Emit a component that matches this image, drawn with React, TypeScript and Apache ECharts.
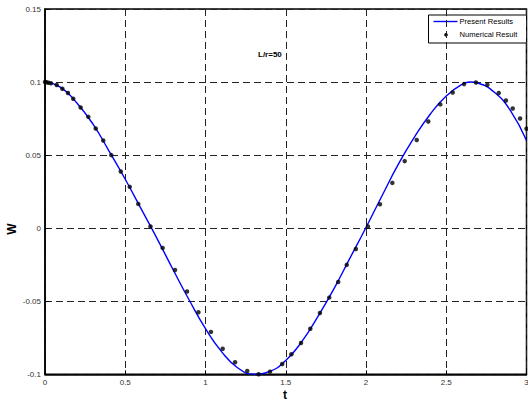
import React, { useEffect, useRef } from "react";
import * as echarts from "echarts";

// Present Results (blue line): [t, W]
const lineT = [0, 0.1, 0.2, 0.3, 0.4, 0.5, 0.6, 0.7, 0.8, 0.9, 1.0, 1.1, 1.2, 1.3, 1.4, 1.5, 1.6, 1.7, 1.8, 1.9, 2.0, 2.1, 2.2, 2.3, 2.4, 2.5, 2.6, 2.65, 2.7, 2.8, 2.9, 3.0];
const lineW = [0.1, 0.0962, 0.0855, 0.071, 0.0526, 0.0335, 0.013, -0.0075, -0.0288, -0.0495, -0.0688, -0.0845, -0.0955, -0.0999, -0.098, -0.0905, -0.0776, -0.0605, -0.0415, -0.0205, 0.0005, 0.0222, 0.0435, 0.062, 0.078, 0.0905, 0.0985, 0.1, 0.0992, 0.093, 0.0805, 0.06];

// Numerical Result (black dots)
const dotT = [0, 0.009, 0.022, 0.037, 0.073, 0.108, 0.143, 0.176, 0.222, 0.27, 0.316, 0.363, 0.413, 0.472, 0.528, 0.581, 0.657, 0.733, 0.81, 0.885, 0.956, 1.034, 1.107, 1.184, 1.26, 1.331, 1.402, 1.478, 1.535, 1.595, 1.653, 1.713, 1.771, 1.827, 1.88, 1.937, 2.012, 2.087, 2.164, 2.241, 2.316, 2.388, 2.463, 2.54, 2.611, 2.685, 2.756, 2.827, 2.872, 2.914, 2.96, 3.0];
const dotW = [0.1, 0.0999, 0.0995, 0.0992, 0.098, 0.0954, 0.0925, 0.0886, 0.0826, 0.0762, 0.0682, 0.06, 0.05, 0.0388, 0.0283, 0.0166, 0.0012, -0.0135, -0.0286, -0.0433, -0.0575, -0.071, -0.0825, -0.0918, -0.0977, -0.1, -0.0982, -0.093, -0.0863, -0.0786, -0.0688, -0.058, -0.0475, -0.0368, -0.0251, -0.0142, 0.0011, 0.0164, 0.031, 0.0459, 0.0603, 0.073, 0.0847, 0.0929, 0.0986, 0.0997, 0.0982, 0.0925, 0.0874, 0.0819, 0.0751, 0.068];

const titleText = "L/r=50";
const seriesNames = ["Present Results", "Numerical Result"];
const xName = "t";
const yName = "W";

const FONT = "'Liberation Sans', Arial, sans-serif";

export default function App() {
  const ref = useRef<HTMLDivElement>(null);
  useEffect(() => {
    document.body.style.margin = "0";
    const chart = echarts.init(ref.current!, null, { renderer: "svg" });
    const dash = { type: [7, 4] as any, color: "#222", width: 1 };
    chart.setOption({
      animation: false,
      backgroundColor: "#fff",
      grid: {
        left: 45, top: 9, right: 1.5, bottom: 26.7,
        outerBoundsMode: "none", containLabel: false,
        show: true, borderColor: "#000", borderWidth: 1.5, backgroundColor: "transparent",
      },
      xAxis: {
        type: "value", min: 0, max: 3, interval: 0.5,
        axisLine: { show: true, onZero: false, lineStyle: { color: "#000", width: 1.5 } },
        axisTick: { show: true, inside: true, length: 4, lineStyle: { color: "#000" } },
        axisLabel: { fontFamily: FONT, fontSize: 8, color: "#333", margin: 4 },
        splitLine: { show: true, lineStyle: dash },
      },
      yAxis: {
        type: "value", min: -0.1, max: 0.15, interval: 0.05,
        axisLine: { show: true, onZero: false, lineStyle: { color: "#000", width: 1.5 } },
        axisTick: { show: true, inside: true, length: 4, lineStyle: { color: "#000" } },
        axisLabel: {
          fontFamily: FONT, fontSize: 8, color: "#333", margin: 4,
          formatter: (v: number) => String(Math.round(v * 1000) / 1000),
        },
        splitLine: { show: true, lineStyle: dash },
      },
      series: [
        {
          name: seriesNames[0], type: "line", symbol: "none", smooth: true,
          data: lineT.map((t, i) => [t, lineW[i]]),
          lineStyle: { color: "#0000ff", width: 1.4 },
          z: 3,
        },
        {
          name: seriesNames[1], type: "scatter", symbol: "circle", symbolSize: 4.5,
          data: dotT.map((t, i) => [t, dotW[i]]),
          itemStyle: { color: "#000" },
          z: 4,
        },
      ],
      graphic: [
        {
          type: "text", left: 258, top: 50, z: 10,
          style: { text: titleText, fontFamily: FONT, fontSize: 8, fontWeight: "bold", fill: "#000" },
        },
        {
          type: "text", x: 285, y: 395, z: 10,
          style: { text: xName, fontFamily: FONT, fontSize: 12, fontWeight: "bold", fill: "#000", align: "center", verticalAlign: "middle" },
        },
        {
          type: "text", x: 12, y: 229, rotation: Math.PI / 2, z: 10,
          style: { text: yName, fontFamily: FONT, fontSize: 12, fontWeight: "bold", fill: "#000", align: "center", verticalAlign: "middle" },
        },
        {
          type: "group", left: 428, top: 14.5, z: 20,
          children: [
            { type: "rect", shape: { x: 0, y: 0, width: 98, height: 28 }, style: { fill: "#fff", stroke: "#000", lineWidth: 1 } },
            { type: "line", shape: { x1: 5, y1: 6.5, x2: 29, y2: 6.5 }, style: { stroke: "#0000ff", lineWidth: 1.4 } },
            { type: "text", x: 31, y: 6.5, style: { text: seriesNames[0], fontFamily: FONT, fontSize: 7.6, fill: "#000", verticalAlign: "middle" } },
            { type: "circle", shape: { cx: 17.5, cy: 19.8, r: 1.8 }, style: { fill: "#000" } },
            { type: "text", x: 31, y: 19.8, style: { text: seriesNames[1], fontFamily: FONT, fontSize: 7.6, fill: "#000", verticalAlign: "middle" } },
          ],
        },
      ],
    });
    return () => chart.dispose();
  }, []);
  return <div ref={ref} style={{ width: 528, height: 401 }} />;
}
